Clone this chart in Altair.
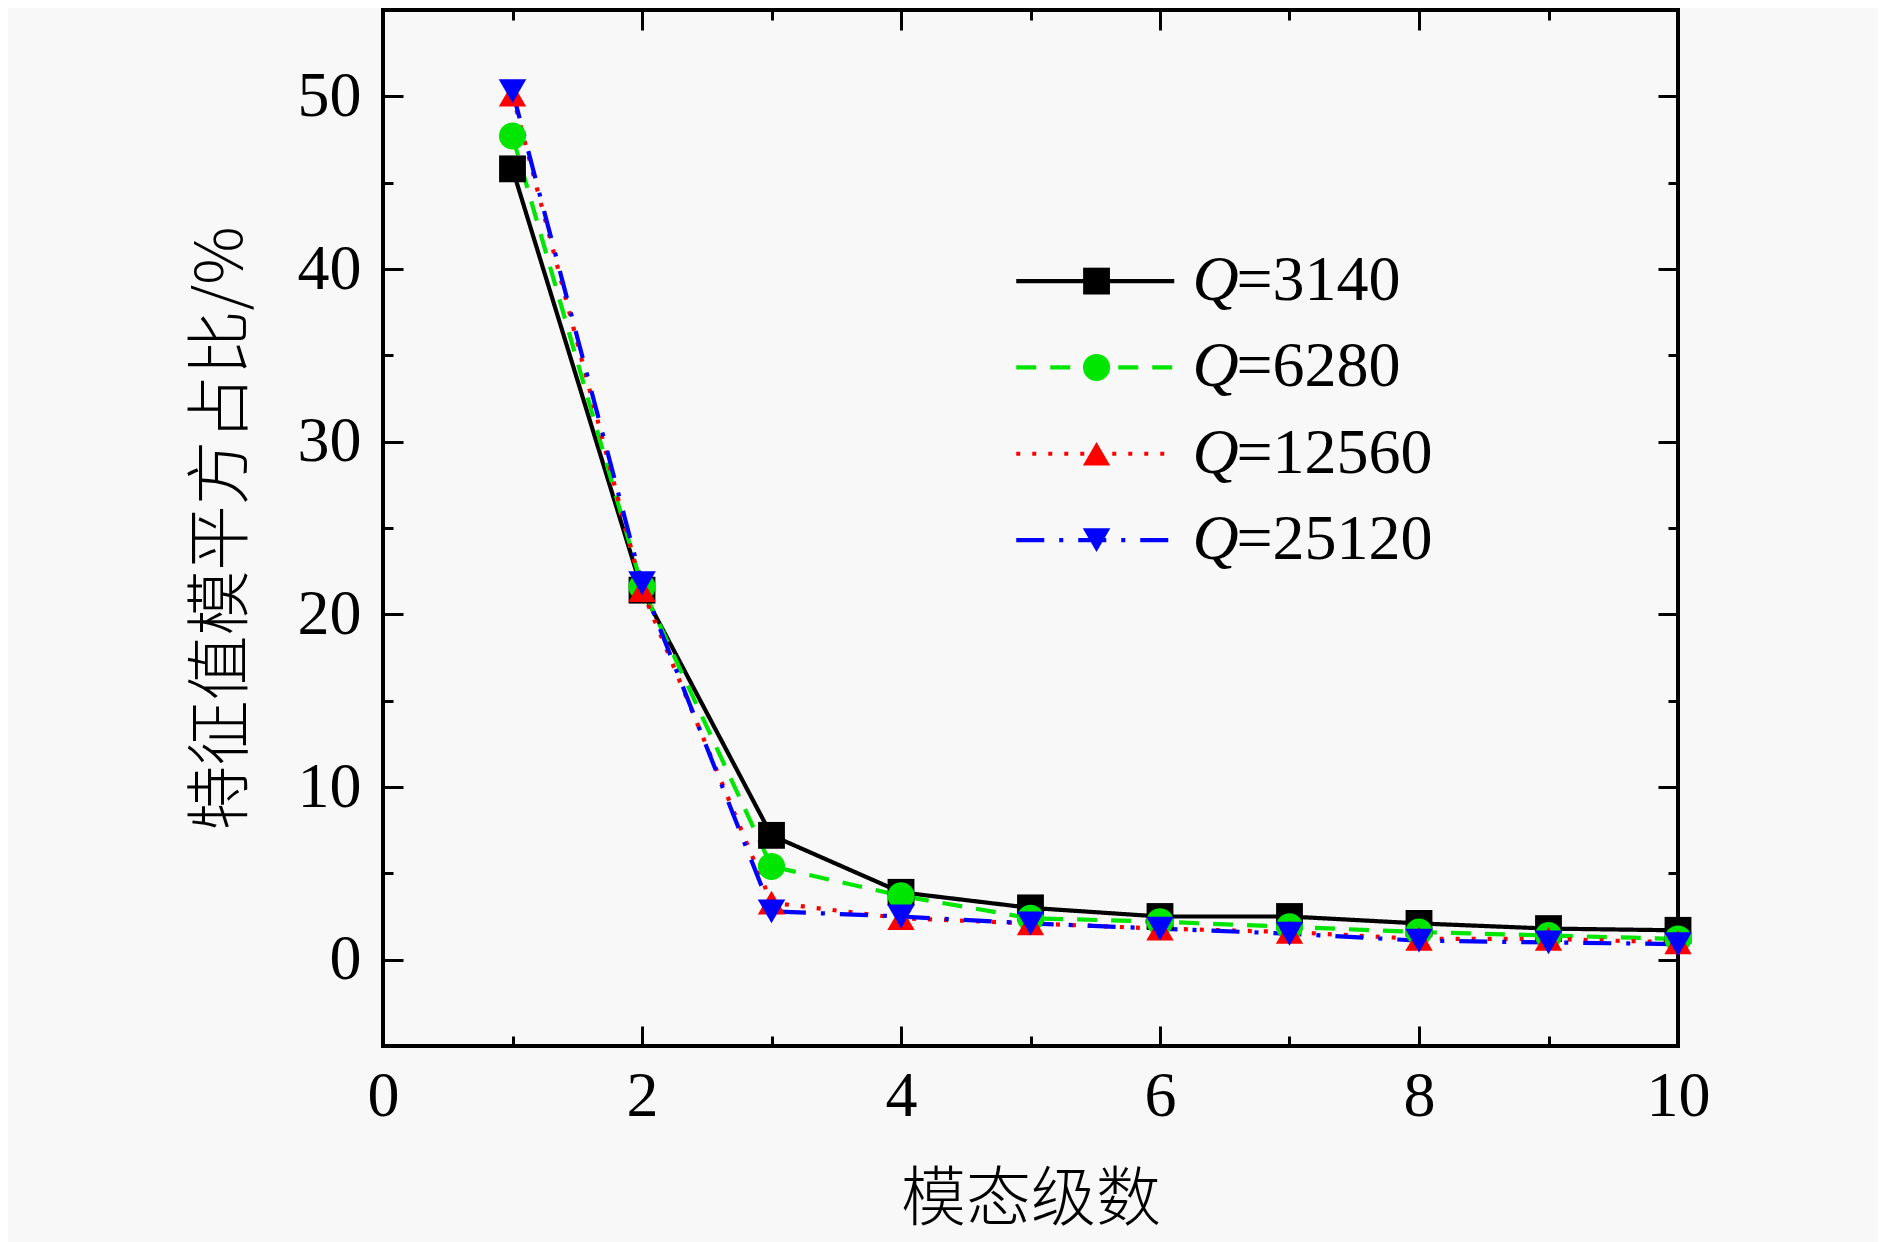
import altair as alt
import pandas as pd

# ---- data ----
modes = [1, 2, 3, 4, 5, 6, 7, 8, 9, 10]
q3140 = [45.8, 21.4, 7.2, 3.9, 3.0, 2.5, 2.5, 2.1, 1.8, 1.7]
q6280 = [47.7, 21.6, 5.4, 3.7, 2.4, 2.2, 1.9, 1.6, 1.4, 1.2]
q12560 = [50.1, 21.4, 3.3, 2.4, 2.1, 1.8, 1.6, 1.2, 1.2, 1.0]
q25120 = [50.3, 21.8, 2.8, 2.5, 2.1, 1.8, 1.5, 1.1, 1.0, 0.9]
series_names = ["3140", "6280", "12560", "25120"]
x_major = [0, 2, 4, 6, 8, 10]
x_minor = [1, 3, 5, 7, 9]
y_major = [0, 10, 20, 30, 40, 50]
y_minor = [5, 15, 25, 35, 45]
x_title = "模态级数"
y_title = "特征值模平方占比/%"

# ---- styles ----
colors = ["#000000", "#00E600", "#FF0000", "#0000FF"]
dashes = [[1, 0], [20, 14], [4, 12], [28, 15, 4, 15]]
shapes = ["square", "circle", "triangle-up", "triangle-down"]
sizes = [720, 760, 1350, 1350]
NUM_FONT = "Liberation Serif"
CJK_FONT = "Noto Sans CJK SC"

rows = []
for name, vals in zip(series_names, [q3140, q6280, q12560, q25120]):
    for m, v in zip(modes, vals):
        rows.append({"mode": m, "value": v, "series": name})
df = pd.DataFrame(rows)

# legend layout (data units)
leg_y0, leg_dy = 39.3, 5.0
leg_x0, leg_x1, leg_xm, leg_xt = 4.89, 6.11, 5.51, 6.25
leg_rows = []
leg_pts = []
for i, name in enumerate(series_names):
    yy = leg_y0 - i * leg_dy
    leg_rows.append({"lx": leg_x0, "ly": yy, "series": name})
    leg_rows.append({"lx": leg_x1, "ly": yy, "series": name})
    leg_pts.append({"lx": leg_xm, "tx": leg_xt, "ly": yy, "series": name,
                    "q": "Q", "rest": "=" + name})
leg_line_df = pd.DataFrame(leg_rows)
leg_pt_df = pd.DataFrame(leg_pts)

xs = alt.Scale(domain=[0, 10], nice=False, zero=False)
ys = alt.Scale(domain=[-5, 55], nice=False, zero=False)
cs = alt.Scale(domain=series_names, range=colors)
ds = alt.Scale(domain=series_names, range=dashes)
ss = alt.Scale(domain=series_names, range=shapes)
zs = alt.Scale(domain=series_names, range=sizes)


def tick_axis(orient, values, size):
    return alt.Axis(orient=orient, values=values, ticks=True, tickSize=size,
                    tickWidth=3, tickColor="black", offset=-size, labels=False,
                    domain=False, grid=False, title=None)


label_x_axis = alt.Axis(orient="bottom", values=x_major, ticks=False, tickSize=0,
                        domain=False, grid=False, labelFont=NUM_FONT,
                        labelFontSize=64, labelColor="black", labelPadding=18,
                        labelFlush=False, labelOverlap=False,
                        title=x_title, titleFont=CJK_FONT, titleFontSize=65,
                        titleFontWeight=300, titleColor="black",
                        titlePadding=40)
label_y_axis = alt.Axis(orient="left", values=y_major, ticks=False, tickSize=0,
                        domain=False, grid=False, labelFont=NUM_FONT,
                        labelFontSize=64, labelColor="black", labelPadding=22,
                        labelFlush=False, labelOverlap=False,
                        title=y_title, titleFont=CJK_FONT, titleFontSize=65,
                        titleFontWeight=300, titleColor="black",
                        titlePadding=42)

lines = alt.Chart(df).mark_line(strokeWidth=4.2, strokeCap="butt").encode(
    x=alt.X("mode:Q", scale=xs, axis=label_x_axis),
    y=alt.Y("value:Q", scale=ys, axis=label_y_axis),
    color=alt.Color("series:N", scale=cs, legend=None),
    strokeDash=alt.StrokeDash("series:N", scale=ds, legend=None),
    order=alt.Order("mode:Q"),
)

points = alt.Chart(df).mark_point(filled=True, opacity=1).encode(
    x=alt.X("mode:Q", scale=xs, axis=tick_axis("bottom", x_major, 20)),
    y=alt.Y("value:Q", scale=ys, axis=tick_axis("left", y_major, 20)),
    color=alt.Color("series:N", scale=cs, legend=None),
    shape=alt.Shape("series:N", scale=ss, legend=None),
    size=alt.Size("series:N", scale=zs, legend=None),
)

leg_lines = alt.Chart(leg_line_df).mark_line(strokeWidth=4.2, strokeCap="butt").encode(
    x=alt.X("lx:Q", scale=xs, axis=tick_axis("bottom", x_minor, 10)),
    y=alt.Y("ly:Q", scale=ys, axis=tick_axis("left", y_minor, 10)),
    color=alt.Color("series:N", scale=cs, legend=None),
    strokeDash=alt.StrokeDash("series:N", scale=ds, legend=None),
    detail="series:N",
)

leg_points = alt.Chart(leg_pt_df).mark_point(filled=True, opacity=1).encode(
    x=alt.X("lx:Q", scale=xs, axis=tick_axis("top", x_major, 20)),
    y=alt.Y("ly:Q", scale=ys, axis=tick_axis("right", y_major, 20)),
    color=alt.Color("series:N", scale=cs, legend=None),
    shape=alt.Shape("series:N", scale=ss, legend=None),
    size=alt.Size("series:N", scale=zs, legend=None),
)

leg_q = alt.Chart(leg_pt_df).mark_text(
    font=NUM_FONT, fontSize=64, fontStyle="italic", align="left",
    baseline="alphabetic", dy=19, color="black").encode(
    x=alt.X("tx:Q", scale=xs, axis=tick_axis("top", x_minor, 10)),
    y=alt.Y("ly:Q", scale=ys, axis=tick_axis("right", y_minor, 10)),
    text="q:N",
)

leg_rest = alt.Chart(leg_pt_df).mark_text(
    font=NUM_FONT, fontSize=64, align="left", baseline="alphabetic",
    dx=44, dy=19, color="black").encode(
    x=alt.X("tx:Q", scale=xs, axis=None),
    y=alt.Y("ly:Q", scale=ys, axis=None),
    text="rest:N",
)

chart = alt.layer(lines, points, leg_lines, leg_points, leg_q, leg_rest).resolve_axis(
    x="independent", y="independent"
).properties(
    width=1295,
    height=1036,
    autosize=alt.AutoSizeParams(type="none"),
    padding={"left": 375, "top": 2, "right": 200, "bottom": 196},
    background="#f8f8f8",
).configure_view(stroke="black", strokeWidth=4)

chart.save("out.html", embed_options={"renderer": "svg", "actions": False})
